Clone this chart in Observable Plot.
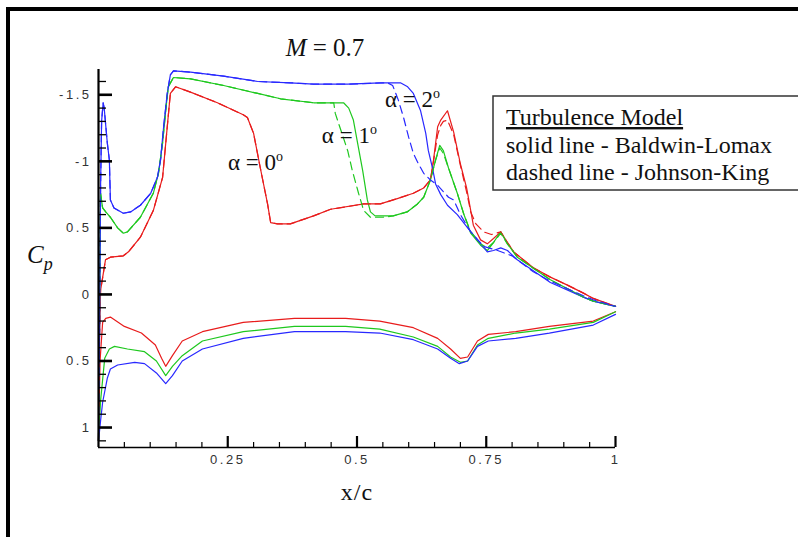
<!DOCTYPE html>
<html><head><meta charset="utf-8">
<script src="https://cdn.jsdelivr.net/npm/d3@7"></script>
<script src="https://cdn.jsdelivr.net/npm/@observablehq/plot@0.6"></script>
<style>
html,body{margin:0;padding:0;background:#fff;}
#wrap{position:relative;width:798px;height:537px;overflow:hidden;background:#fff;}
#frame{position:absolute;left:6px;top:7px;width:820px;height:560px;border-top:4px solid #000;border-left:4px solid #000;pointer-events:none;}
</style></head><body>
<div id="wrap"><div id="frame"></div></div>
<script>
// ---- data (x/c, Cp) ----
const alphas = ["0", "1", "2"];
const alphaColors = ["#e81c1c", "#1ec81e", "#2828ff"];

// Baldwin-Lomax (solid), upper surface
const bl0Upper = [[0,1.1],[0.002,0.3],[0.004,-0.03],[0.0135,-0.26],[0.023,-0.28],[0.048,-0.29],[0.058,-0.32],[0.081,-0.43],[0.106,-0.63],[0.124,-0.88],[0.133,-1.26],[0.139,-1.51],[0.149,-1.56],[0.178,-1.52],[0.23,-1.44],[0.28,-1.35],[0.288,-1.33],[0.30,-1.21],[0.313,-0.95],[0.327,-0.68],[0.333,-0.54],[0.346,-0.53],[0.371,-0.53],[0.416,-0.59],[0.449,-0.64],[0.513,-0.68],[0.545,-0.68],[0.578,-0.72],[0.609,-0.76],[0.629,-0.80],[0.642,-0.86],[0.648,-1.01],[0.656,-1.26],[0.662,-1.31],[0.675,-1.38],[0.687,-1.22],[0.70,-0.98],[0.712,-0.80],[0.72,-0.63],[0.725,-0.52],[0.739,-0.41],[0.752,-0.38],[0.764,-0.42],[0.778,-0.47],[0.791,-0.39],[0.803,-0.32],[0.841,-0.20],[0.874,-0.13],[0.907,-0.07],[0.938,-0.01],[0.957,0.03],[1.0,0.09]];
const bl1Upper = [[0,1.1],[0.002,0.2],[0.004,-0.76],[0.008,-0.65],[0.014,-0.62],[0.023,-0.58],[0.037,-0.50],[0.048,-0.46],[0.056,-0.47],[0.081,-0.58],[0.106,-0.76],[0.116,-0.91],[0.124,-1.14],[0.13,-1.38],[0.135,-1.56],[0.145,-1.63],[0.178,-1.62],[0.242,-1.57],[0.308,-1.51],[0.352,-1.47],[0.416,-1.44],[0.474,-1.44],[0.484,-1.40],[0.493,-1.31],[0.501,-1.14],[0.511,-0.93],[0.52,-0.71],[0.526,-0.62],[0.535,-0.59],[0.57,-0.59],[0.597,-0.62],[0.617,-0.68],[0.629,-0.73],[0.642,-0.86],[0.652,-1.01],[0.66,-1.12],[0.667,-1.08],[0.677,-0.95],[0.694,-0.76],[0.706,-0.61],[0.72,-0.46],[0.739,-0.37],[0.752,-0.33],[0.764,-0.39],[0.778,-0.47],[0.791,-0.38],[0.81,-0.28],[0.874,-0.11],[0.938,0.02],[0.957,0.05],[1.0,0.09]];
const bl2Upper = [[0,1.1],[0.002,0.3],[0.004,-0.8],[0.006,-1.3],[0.009,-1.44],[0.011,-1.40],[0.017,-1.14],[0.021,-1.01],[0.023,-0.71],[0.03,-0.65],[0.048,-0.61],[0.062,-0.62],[0.081,-0.67],[0.101,-0.76],[0.114,-0.88],[0.12,-1.01],[0.126,-1.26],[0.133,-1.51],[0.139,-1.65],[0.145,-1.68],[0.178,-1.67],[0.242,-1.64],[0.308,-1.60],[0.371,-1.59],[0.416,-1.58],[0.482,-1.58],[0.545,-1.59],[0.584,-1.59],[0.598,-1.56],[0.609,-1.51],[0.623,-1.38],[0.633,-1.21],[0.638,-1.08],[0.646,-0.95],[0.652,-0.83],[0.662,-0.75],[0.675,-0.67],[0.694,-0.60],[0.714,-0.50],[0.733,-0.41],[0.752,-0.32],[0.764,-0.33],[0.778,-0.35],[0.791,-0.33],[0.81,-0.26],[0.874,-0.09],[0.938,0.02],[0.957,0.05],[1.0,0.09]];

// Johnson-King (dashed), upper surface
const jk0Upper = [[0,1.1],[0.002,0.3],[0.004,-0.03],[0.0135,-0.26],[0.023,-0.28],[0.048,-0.29],[0.058,-0.32],[0.081,-0.43],[0.106,-0.63],[0.124,-0.88],[0.133,-1.26],[0.139,-1.51],[0.149,-1.56],[0.178,-1.52],[0.23,-1.44],[0.28,-1.35],[0.288,-1.33],[0.30,-1.21],[0.313,-0.95],[0.327,-0.68],[0.333,-0.54],[0.346,-0.53],[0.371,-0.53],[0.416,-0.59],[0.449,-0.64],[0.513,-0.68],[0.545,-0.68],[0.578,-0.72],[0.609,-0.76],[0.629,-0.80],[0.642,-0.86],[0.648,-1.0],[0.656,-1.2],[0.662,-1.27],[0.667,-1.30],[0.675,-1.31],[0.687,-1.20],[0.70,-0.97],[0.712,-0.77],[0.72,-0.62],[0.73,-0.53],[0.745,-0.47],[0.76,-0.45],[0.778,-0.47],[0.791,-0.39],[0.803,-0.32],[0.841,-0.20],[0.874,-0.13],[0.907,-0.07],[0.938,-0.01],[0.957,0.03],[1.0,0.09]];
const jk1Upper = [[0,1.1],[0.002,0.2],[0.004,-0.76],[0.008,-0.65],[0.014,-0.62],[0.023,-0.58],[0.037,-0.50],[0.048,-0.46],[0.056,-0.47],[0.081,-0.58],[0.106,-0.76],[0.116,-0.91],[0.124,-1.14],[0.13,-1.38],[0.135,-1.56],[0.145,-1.63],[0.178,-1.62],[0.242,-1.57],[0.308,-1.51],[0.352,-1.47],[0.416,-1.44],[0.455,-1.44],[0.458,-1.36],[0.464,-1.29],[0.482,-1.08],[0.491,-0.93],[0.503,-0.76],[0.513,-0.63],[0.526,-0.58],[0.551,-0.58],[0.57,-0.59],[0.597,-0.62],[0.617,-0.68],[0.629,-0.73],[0.642,-0.86],[0.652,-1.01],[0.66,-1.10],[0.667,-1.06],[0.677,-0.95],[0.694,-0.76],[0.706,-0.61],[0.72,-0.47],[0.739,-0.38],[0.752,-0.35],[0.764,-0.39],[0.778,-0.46],[0.791,-0.38],[0.81,-0.28],[0.874,-0.11],[0.938,0.02],[0.957,0.05],[1.0,0.09]];
const jk2Upper = [[0,1.1],[0.002,0.3],[0.004,-0.8],[0.006,-1.3],[0.009,-1.44],[0.011,-1.40],[0.017,-1.14],[0.021,-1.01],[0.023,-0.71],[0.03,-0.65],[0.048,-0.61],[0.062,-0.62],[0.081,-0.67],[0.101,-0.76],[0.114,-0.88],[0.12,-1.01],[0.126,-1.26],[0.133,-1.51],[0.139,-1.65],[0.145,-1.68],[0.178,-1.67],[0.242,-1.64],[0.308,-1.60],[0.371,-1.59],[0.416,-1.58],[0.482,-1.58],[0.559,-1.59],[0.569,-1.57],[0.58,-1.46],[0.59,-1.33],[0.60,-1.18],[0.609,-1.06],[0.619,-0.98],[0.629,-0.91],[0.642,-0.86],[0.656,-0.82],[0.677,-0.73],[0.687,-0.71],[0.70,-0.60],[0.72,-0.47],[0.745,-0.36],[0.772,-0.33],[0.80,-0.29],[0.841,-0.17],[0.874,-0.10],[0.938,0.01],[0.957,0.04],[1.0,0.09]];

// lower surface (both models coincide)
const bl0Lower = [[0,1.1],[0.003,0.5],[0.008,0.21],[0.014,0.18],[0.023,0.17],[0.05,0.24],[0.083,0.29],[0.11,0.38],[0.122,0.48],[0.13,0.54],[0.143,0.46],[0.162,0.35],[0.201,0.28],[0.28,0.21],[0.379,0.18],[0.478,0.18],[0.544,0.20],[0.609,0.25],[0.656,0.33],[0.681,0.41],[0.70,0.48],[0.714,0.47],[0.733,0.35],[0.754,0.30],[0.807,0.28],[0.872,0.24],[0.957,0.20],[1.0,0.13]];
const bl1Lower = [[0,1.1],[0.004,0.8],[0.012,0.48],[0.021,0.41],[0.031,0.39],[0.056,0.41],[0.089,0.43],[0.112,0.50],[0.13,0.61],[0.143,0.54],[0.162,0.46],[0.201,0.35],[0.28,0.28],[0.379,0.24],[0.478,0.24],[0.544,0.26],[0.609,0.32],[0.656,0.39],[0.681,0.47],[0.70,0.51],[0.714,0.50],[0.733,0.38],[0.754,0.33],[0.807,0.29],[0.872,0.26],[0.957,0.21],[1.0,0.13]];
const bl2Lower = [[0,1.1],[0.004,0.95],[0.008,0.81],[0.017,0.63],[0.023,0.56],[0.037,0.53],[0.07,0.51],[0.089,0.52],[0.112,0.59],[0.13,0.67],[0.143,0.61],[0.162,0.50],[0.201,0.41],[0.28,0.33],[0.379,0.28],[0.478,0.28],[0.544,0.29],[0.609,0.34],[0.656,0.41],[0.681,0.48],[0.698,0.52],[0.714,0.50],[0.733,0.39],[0.754,0.35],[0.807,0.33],[0.872,0.29],[0.957,0.23],[1.0,0.15]];

// axes
const xTickValues = [0.25, 0.5, 0.75, 1];
const xTickLabels = ["0.25", "0.5", "0.75", "1"];
const yTickValues = [-1.5, -1, -0.5, 0, 0.5, 1];
const yTickLabels = ["-1.5", "-1", "0.5", "0", "0.5", "1"];
const xMinor = d3.range(1, 20).map(i => i / 20).filter(v => Math.abs(v * 4 - Math.round(v * 4)) > 1e-6);
const yMinor = d3.range(-16, 12).map(i => i / 10).filter(v => Math.abs(v * 2 - Math.round(v * 2)) > 1e-6);

// annotations
const annLabels = ["α = 0", "α = 1", "α = 2"];
const annX = [0.2515, 0.433, 0.555];
const annCp = [-0.93, -1.135, -1.406];

const legendLines = ["Turbulence Model", "solid line - Baldwin-Lomax", "dashed line - Johnson-King"];

// ---- build tables ----
function toRows(curves, model, surface) {
  return curves.flatMap((pts, i) => pts.map(([x, cp]) => ({x, cp, alpha: alphas[i], model, curve: model + surface + i})));
}
const solidRows = [...toRows([bl0Upper, bl1Upper, bl2Upper], "BL", "U"), ...toRows([bl0Lower, bl1Lower, bl2Lower], "BL", "L")];
const dashedRows = toRows([jk0Upper, jk1Upper, jk2Upper], "JK", "U");

const mL = 98, mR = 183, mT = 69, mB = 90, W = 798, H = 537;
const fw = W - mL - mR, fh = H - mT - mB;

const plot = Plot.plot({
  width: W, height: H,
  marginLeft: mL, marginRight: mR, marginTop: mT, marginBottom: mB,
  style: {background: "transparent", fontFamily: "'Liberation Sans', Arial, sans-serif", fontSize: "13px", color: "#333", letterSpacing: "2.5px", overflow: "visible"},
  x: {domain: [0, 1], ticks: xTickValues, tickFormat: d => xTickLabels[xTickValues.indexOf(d)], tickSize: 0, tickPadding: 7, label: null},
  y: {domain: [-1.69, 1.15], reverse: true, ticks: yTickValues, tickFormat: d => yTickLabels[yTickValues.indexOf(d)], tickSize: 0, tickPadding: 7, label: null},
  color: {domain: alphas, range: alphaColors},
  marks: [
    Plot.line(solidRows, {x: "x", y: "cp", z: "curve", stroke: "alpha", strokeWidth: 1.2}),
    Plot.line(dashedRows, {x: "x", y: "cp", z: "curve", stroke: "alpha", strokeWidth: 1.2, strokeDasharray: "8,5"}),
    Plot.ruleX([0], {stroke: "#000", strokeWidth: 2.2}),
    Plot.ruleY([1.15], {stroke: "#000", strokeWidth: 1.6}),
    Plot.tickY(yTickValues, {y: d => d, insetRight: fw - 14, stroke: "#000", strokeWidth: 2.6}),
    Plot.tickY(yMinor, {y: d => d, insetRight: fw - 8, stroke: "#000", strokeWidth: 1.3}),
    Plot.tickX(xTickValues, {x: d => d, insetTop: fh - 11, stroke: "#000", strokeWidth: 2.2}),
    Plot.tickX(xMinor, {x: d => d, insetTop: fh - 5, stroke: "#000", strokeWidth: 1.2})
  ]
});

document.getElementById("wrap").insertBefore(plot, document.getElementById("frame"));
plot.style.position = "absolute";
plot.style.left = "0px";
plot.style.top = "0px";

const svg = d3.select(plot);
const sx = plot.scale("x"), sy = plot.scale("y");
const serif = "'Liberation Serif', 'Times New Roman', serif";

// annotations alpha = n°
annLabels.forEach((t, i) => {
  const tx = svg.append("text")
    .attr("x", sx.apply(annX[i])).attr("y", sy.apply(annCp[i]))
    .attr("text-anchor", "start")
    .attr("font-family", serif).attr("font-size", 23).attr("fill", "#111")
    .style("letter-spacing", "0px");
  tx.append("tspan").text(t);
  tx.append("tspan").attr("font-size", 14).attr("dy", -9).text("o");
});

// title
const title = svg.append("text").attr("x", 325).attr("y", 56).attr("text-anchor", "middle")
  .attr("font-family", serif).attr("font-size", 25).attr("fill", "#111").style("letter-spacing", "0px");
title.append("tspan").attr("font-style", "italic").text("M");
title.append("tspan").text(" = 0.7");

// Cp label
const cp = svg.append("text").attr("x", 27).attr("y", 263).attr("text-anchor", "start")
  .attr("font-family", serif).attr("font-size", 25).attr("font-style", "italic").attr("fill", "#111").style("letter-spacing", "0px");
cp.append("tspan").text("C");
cp.append("tspan").attr("font-size", 18).attr("dy", 7).text("p");

// x label
svg.append("text").attr("x", 357).attr("y", 500).attr("text-anchor", "middle")
  .attr("font-family", serif).attr("font-size", 24).attr("fill", "#111").style("letter-spacing", "1px").text("x/c");

// legend box
svg.append("rect").attr("x", 493).attr("y", 96).attr("width", 330).attr("height", 94)
  .attr("fill", "#fff").attr("stroke", "#333").attr("stroke-width", 1.5);
legendLines.forEach((t, i) => {
  const el = svg.append("text").attr("x", 506).attr("y", 125 + i * 27.5).attr("text-anchor", "start")
    .attr("font-family", serif).attr("font-size", 24).attr("fill", "#111")
    .style("letter-spacing", "0px").text(t);
  if (i === 0) el.style("text-decoration", "underline");
});
</script>
</body></html>
